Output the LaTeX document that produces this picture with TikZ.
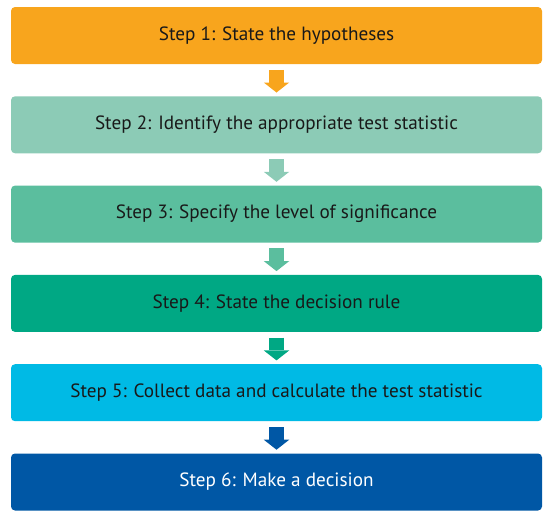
\documentclass[tikz,border=0pt]{standalone}
\usepackage{fontspec}
\setmainfont{PT Sans}
\usepackage{tikz}
\usetikzlibrary{arrows.meta,positioning}

\definecolor{stepA}{HTML}{F8A51D}
\definecolor{stepB}{HTML}{8CCBB6}
\definecolor{stepC}{HTML}{5BBE9E}
\definecolor{stepD}{HTML}{00A884}
\definecolor{stepE}{HTML}{00BAE5}
\definecolor{stepF}{HTML}{0057A5}

\begin{document}
\begin{tikzpicture}[x=1pt,y=1pt,
    stepbox/.style={rectangle,rounded corners=4pt,minimum width=531pt,minimum height=57pt,
      inner sep=0pt,text=black!90,font=\fontsize{19.2pt}{23pt}\selectfont},
    flow/.style={line width=15.5pt,shorten <=5.6pt,shorten >=3.6pt,
      -{Triangle[width=25.5pt,length=10pt,line width=0pt]}}]
    \useasboundingbox (0,0) rectangle (558,-520);

    % --- the six steps ---
    \node[stepbox,fill=stepA] (s1) at (276.5,-35.5) {Step 1: State the hypotheses};
    \node[stepbox,fill=stepB,below=31.9pt of s1] (s2) {Step 2: Identify the appropriate test statistic};
    \node[stepbox,fill=stepC,below=31.9pt of s2] (s3) {Step 3: Specify the level of significance};
    \node[stepbox,fill=stepD,below=31.9pt of s3] (s4) {Step 4: State the decision rule};
    \node[stepbox,fill=stepE,below=31.9pt of s4] (s5) {Step 5: Collect data and calculate the test statistic};
    \node[stepbox,fill=stepF,text=white,below=31.9pt of s5] (s6) {Step 6: Make a decision};

    % --- arrows between the steps ---
    \draw[flow,stepA] (s1) -- (s2);
    \draw[flow,stepB] (s2) -- (s3);
    \draw[flow,stepC] (s3) -- (s4);
    \draw[flow,stepD] (s4) -- (s5);
    \draw[flow,stepF] (s5) -- (s6);
\end{tikzpicture}
\end{document}
